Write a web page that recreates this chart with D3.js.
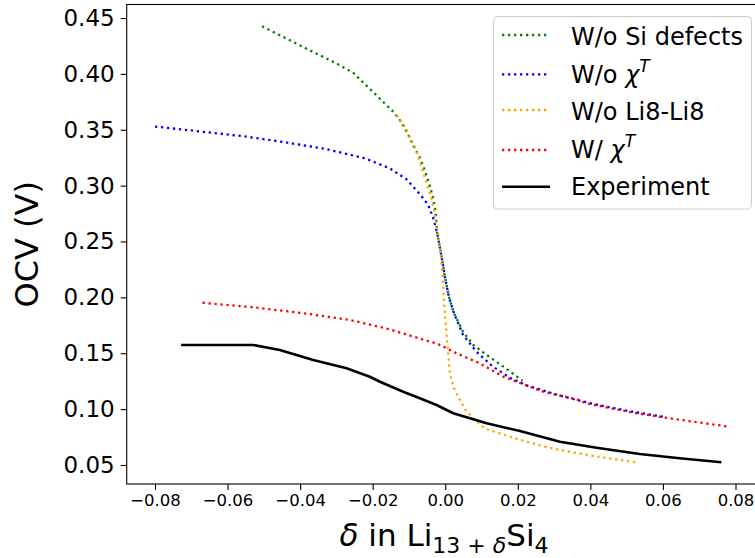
<!DOCTYPE html>
<html>
<head>
<meta charset="utf-8">
<script src="https://cdn.jsdelivr.net/npm/d3@7"></script>
<style>
  html, body { margin: 0; padding: 0; background: #fff; }
  svg { display: block; font-family: "DejaVu Sans", sans-serif; }
</style>
</head>
<body>
<svg id="chart" width="755" height="558"></svg>
<script>
// ---- data ----
const greenX = [-0.0505, -0.0437, -0.0370, -0.0302, -0.0254, -0.0227, -0.0200, -0.0173, -0.0146, -0.0123, -0.0104, -0.0089, -0.0070, -0.0056, -0.0044, -0.0034, -0.0027, -0.0022, -0.0010, -0.0001, 0.0010, 0.0024, 0.0049, 0.0077, 0.0121, 0.0167, 0.0213];
const greenY = [0.4426, 0.4315, 0.4205, 0.4097, 0.4011, 0.3925, 0.3841, 0.3755, 0.3671, 0.3578, 0.3468, 0.3364, 0.3250, 0.3134, 0.3015, 0.2896, 0.2776, 0.2573, 0.2364, 0.2185, 0.2006, 0.1858, 0.1693, 0.1574, 0.1469, 0.1365, 0.1254];

const blueX = [-0.0800, -0.0680, -0.0554, -0.0441, -0.0330, -0.0222, -0.0153, -0.0107, -0.0070, -0.0047, -0.0033, -0.0022, -0.0010, -0.0001, 0.0010, 0.0024, 0.0049, 0.0086, 0.0129, 0.0178, 0.0226, 0.0318, 0.0408, 0.0500, 0.0610];
const blueY = [0.3529, 0.3486, 0.3441, 0.3388, 0.3328, 0.3245, 0.3155, 0.3057, 0.2925, 0.2827, 0.2708, 0.2573, 0.2364, 0.2185, 0.2006, 0.1858, 0.1665, 0.1514, 0.1386, 0.1281, 0.1211, 0.1119, 0.1046, 0.0986, 0.0927];

const orangeX = [-0.0134, -0.0109, -0.0079, -0.0063, -0.0042, -0.0031, -0.0020, -0.0012, -0.0007, -0.0003, 0.0004, 0.0013, 0.0022, 0.0038, 0.0056, 0.0082, 0.0112, 0.0148, 0.0201, 0.0274, 0.0348, 0.0421, 0.0532];
const orangeY = [0.3632, 0.3513, 0.3309, 0.3140, 0.2931, 0.2782, 0.2573, 0.2364, 0.2185, 0.1947, 0.1648, 0.1321, 0.1201, 0.1097, 0.0992, 0.0903, 0.0822, 0.0786, 0.0730, 0.0664, 0.0614, 0.0574, 0.0521];

const redX = [-0.0669, -0.0529, -0.0390, -0.0263, -0.0153, -0.0042, -0.0024, 0.0031, 0.0095, 0.0160, 0.0233, 0.0270, 0.0362, 0.0389, 0.0518, 0.0637, 0.0782];
const redY = [0.1952, 0.1911, 0.1858, 0.1798, 0.1714, 0.1603, 0.1589, 0.1500, 0.1410, 0.1290, 0.1201, 0.1156, 0.1088, 0.1052, 0.0968, 0.0909, 0.0843];

const expX = [-0.0728, -0.0529, -0.0456, -0.0364, -0.0272, -0.0208, -0.0180, -0.0116, -0.0070, -0.0024, 0.0022, 0.0068, 0.0114, 0.0206, 0.0316, 0.0417, 0.0536, 0.0646, 0.0761];
const expY = [0.1574, 0.1574, 0.1529, 0.1440, 0.1365, 0.1290, 0.1245, 0.1156, 0.1097, 0.1037, 0.0963, 0.0918, 0.0873, 0.0804, 0.0708, 0.0655, 0.0598, 0.0560, 0.0524];

const seriesNames = ["W/o Si defects", "W/o \u03C7T", "W/o Li8-Li8", "W/ \u03C7T", "Experiment"];
const seriesColors = ["green", "blue", "orange", "red", "black"];

const xTicks = [-0.08, -0.06, -0.04, -0.02, 0.00, 0.02, 0.04, 0.06, 0.08];
const xTickLabels = ["\u22120.08", "\u22120.06", "\u22120.04", "\u22120.02", "0.00", "0.02", "0.04", "0.06", "0.08"];
const yTicks = [0.05, 0.10, 0.15, 0.20, 0.25, 0.30, 0.35, 0.40, 0.45];
const yTickLabels = ["0.05", "0.10", "0.15", "0.20", "0.25", "0.30", "0.35", "0.40", "0.45"];

// ---- layout ----
const svg = d3.select("#chart");
const L = 126.7, R = 758, T = 4.5, B = 484;
const x = d3.scaleLinear().domain([-0.0878, 0.0862]).range([L, R]);
const y = d3.scaleLinear().domain([0.0330, 0.4621]).range([B, T]);

svg.append("defs").append("clipPath").attr("id", "clip")
  .append("rect").attr("x", L).attr("y", T).attr("width", R - L).attr("height", B - T);

const series = [
  { xs: greenX, ys: greenY, color: seriesColors[0], dotted: true },
  { xs: blueX, ys: blueY, color: seriesColors[1], dotted: true },
  { xs: orangeX, ys: orangeY, color: seriesColors[2], dotted: true },
  { xs: redX, ys: redY, color: seriesColors[3], dotted: true },
  { xs: expX, ys: expY, color: seriesColors[4], dotted: false }
];

const line = d3.line().x(d => x(d[0])).y(d => y(d[1]));
const plot = svg.append("g").attr("clip-path", "url(#clip)");
series.forEach(s => {
  const pts = s.xs.map((v, i) => [v, s.ys[i]]);
  const p = plot.append("path").datum(pts)
    .attr("d", line)
    .attr("fill", "none")
    .attr("stroke", s.color);
  if (s.dotted) {
    p.attr("stroke-width", 2.3).attr("stroke-dasharray", "2.3 3.7").attr("stroke-linecap", "butt");
  } else {
    p.attr("stroke-width", 2.6).attr("stroke-linejoin", "round");
  }
});

// axes
const xAxis = d3.axisBottom(x).tickValues(xTicks).tickFormat((d, i) => xTickLabels[i]).tickSize(6).tickPadding(4);
const gx = svg.append("g").attr("transform", `translate(0,${B})`).call(xAxis);
gx.select(".domain").remove();
gx.selectAll(".tick line").attr("stroke", "#000").attr("stroke-width", 1.1);
gx.selectAll(".tick text").attr("font-size", 16.5).attr("font-family", "DejaVu Sans").attr("fill", "#000");

const yAxis = d3.axisLeft(y).tickValues(yTicks).tickFormat((d, i) => yTickLabels[i]).tickSize(6).tickPadding(6);
const gy = svg.append("g").attr("transform", `translate(${L},0)`).call(yAxis);
gy.select(".domain").remove();
gy.selectAll(".tick line").attr("stroke", "#000").attr("stroke-width", 1.1);
gy.selectAll(".tick text").attr("font-size", 23).attr("font-family", "DejaVu Sans").attr("fill", "#000");

// frame
svg.append("rect").attr("x", L).attr("y", T).attr("width", R - L).attr("height", B - T)
  .attr("fill", "none").attr("stroke", "#000").attr("stroke-width", 1.1);

// axis labels
svg.append("text")
  .attr("transform", `translate(38,${(T + B) / 2}) rotate(-90)`)
  .attr("text-anchor", "middle")
  .attr("font-size", 32)
  .text("OCV (V)");

const xl = svg.append("text")
  .attr("x", 444).attr("y", 546)
  .attr("text-anchor", "middle")
  .attr("font-size", 31);
xl.append("tspan").attr("font-style", "italic").text("\u03B4");
xl.append("tspan").text(" in Li");
xl.append("tspan").attr("font-size", 22).attr("dy", 7).text("13 + ");
xl.append("tspan").attr("font-size", 22).attr("font-style", "italic").text("\u03B4");
xl.append("tspan").attr("dy", -7).text("Si");
xl.append("tspan").attr("font-size", 22).attr("dy", 7).text("4");

// legend
const lg = svg.append("g");
lg.append("rect").attr("x", 493.5).attr("y", 16.5).attr("width", 258).attr("height", 192.5)
  .attr("rx", 4).attr("fill", "#fff").attr("fill-opacity", 0.8)
  .attr("stroke", "#cccccc").attr("stroke-width", 1);
const rowY = [35, 74.3, 110, 150, 186.7];
const baseY = [45, 82.5, 120, 158, 195];
series.forEach((s, i) => {
  const h = lg.append("line").attr("x1", 502).attr("x2", 550).attr("y1", rowY[i]).attr("y2", rowY[i])
    .attr("stroke", s.color);
  if (s.dotted) h.attr("stroke-width", 2.3).attr("stroke-dasharray", "2.3 3.7");
  else h.attr("stroke-width", 2.6);
  const t = lg.append("text").attr("x", 571).attr("y", baseY[i]).attr("font-size", 24);
  const name = seriesNames[i];
  if (name.endsWith("\u03C7T")) {
    t.append("tspan").text(name.slice(0, -2));
    t.append("tspan").attr("font-style", "italic").text("\u03C7");
    t.append("tspan").attr("font-style", "italic").attr("font-size", 17).attr("dy", -11).text("T");
  } else {
    t.text(name);
  }
});
</script>
</body>
</html>
